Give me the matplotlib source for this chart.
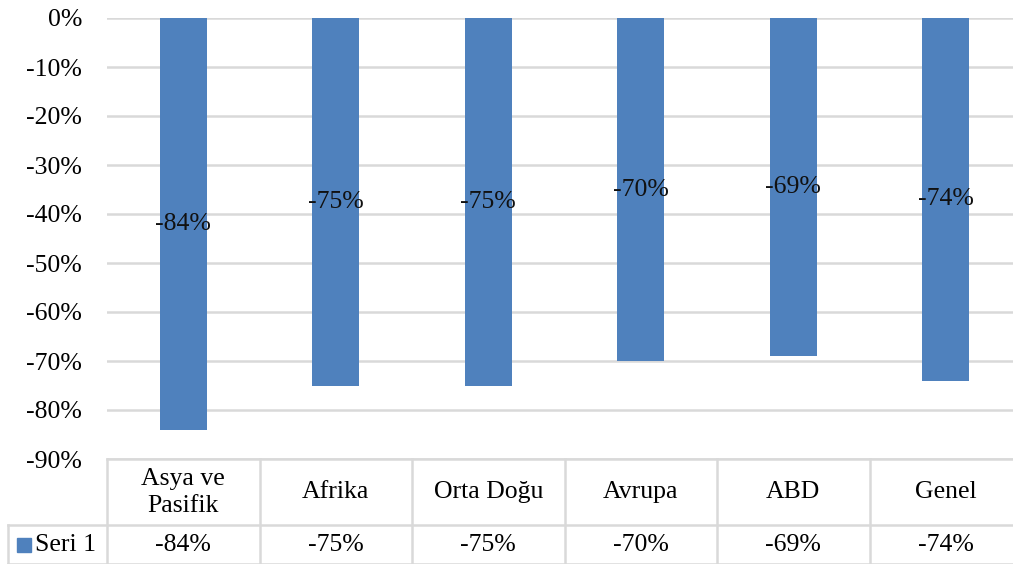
import matplotlib
matplotlib.use("Agg")
import matplotlib.pyplot as plt
import matplotlib.transforms as mtransforms

# data
categories = ["Asya ve\nPasifik", "Afrika", "Orta Doğu", "Avrupa", "ABD", "Genel"]
values = [-84, -75, -75, -70, -69, -74]
series_name = "Seri 1"
yticks = list(range(0, -91, -10))

bar_color = "#4f81bd"
grid_color = "#d9d9d9"
plt.rcParams["font.family"] = ["Liberation Serif", "DejaVu Serif"]
fs = 18.5

fig = plt.figure(figsize=(10.13, 5.64), dpi=100)
# plot area runs a bit past the right edge, like the cropped Excel chart
ax = fig.add_axes([107 / 1013, 1 - 459 / 564, 915 / 1013, 441 / 564])

x = list(range(len(categories)))
ax.bar(x, values, width=0.31, color=bar_color, zorder=3)
for xi, v in zip(x, values):
    ax.text(xi, v / 2, f"{v}%", ha="center", va="center", fontsize=fs,
            color="#111111", zorder=4)

ax.set_xlim(-0.5, len(categories) - 0.5)
ax.set_ylim(-90, 0)
ax.set_yticks(yticks)
ax.set_yticklabels([f"{t}%" for t in yticks], fontsize=fs)
ax.set_xticks([])
ax.tick_params(axis="y", length=0, pad=18)
ax.yaxis.grid(True, color=grid_color, linewidth=1.8, zorder=0)
for s in ax.spines.values():
    s.set_visible(False)

# data table below the plot
trans = mtransforms.blended_transform_factory(ax.transData, ax.transAxes)
row1_bot = -0.150
row2_bot = -0.238
left_col = -1.149
lkw = dict(color=grid_color, linewidth=1.8, transform=trans, clip_on=False)

ax.plot([-0.5, len(categories) - 0.5], [0, 0], **lkw)
ax.plot([left_col, len(categories) - 0.5], [row1_bot, row1_bot], **lkw)
ax.plot([left_col, len(categories) - 0.5], [row2_bot, row2_bot], **lkw)
ax.plot([left_col, left_col], [row1_bot, row2_bot], **lkw)
for i in range(len(categories) + 1):
    ax.plot([i - 0.5, i - 0.5], [0, row2_bot], **lkw)

for xi, cat, v in zip(x, categories, values):
    ax.text(xi, row1_bot / 2, cat, ha="center", va="center", fontsize=fs,
            transform=trans, linespacing=1.3)
    ax.text(xi, (row1_bot + row2_bot) / 2, f"{v}%", ha="center", va="center",
            fontsize=fs, transform=trans)

# legend key in the table
ax.plot([-1.044], [(row1_bot + row2_bot) / 2], marker="s", markersize=10,
        color=bar_color, transform=trans, clip_on=False, linestyle="none")
ax.text(-0.975, (row1_bot + row2_bot) / 2, series_name, ha="left", va="center",
        fontsize=fs, transform=trans)

fig.savefig("out.png", dpi=100)
